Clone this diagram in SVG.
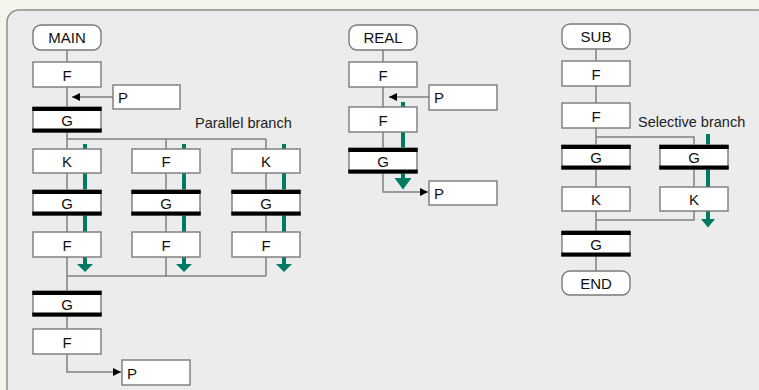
<svg xmlns="http://www.w3.org/2000/svg" width="759" height="390" viewBox="0 0 759 390">
<defs>
<style>
.box{fill:#fff;stroke:#7a7a7a;stroke-width:1.4}
.bar{fill:#000}
.lbl{font-family:"Liberation Sans",Arial,sans-serif;font-size:15px;fill:#111;text-anchor:middle}
.pl{font-family:"Liberation Sans",Arial,sans-serif;font-size:15px;fill:#111}
.note{font-family:"Liberation Sans",Arial,sans-serif;font-size:14.5px;fill:#222}
.ln{fill:none;stroke:#808080;stroke-width:1.5}
.gr{fill:none;stroke:#007a63;stroke-width:4}
.gh{fill:#007a63}
</style>
<marker id="ah" markerUnits="userSpaceOnUse" markerWidth="10" markerHeight="10" viewBox="0 0 10 10" refX="9" refY="5" orient="auto">
<path d="M1,1 L9,5 L1,9 Z" fill="#000"/>
</marker>
</defs>
<rect x="0" y="0" width="759" height="390" fill="#f4f4ec"/>
<rect x="7" y="10" width="762" height="400" rx="12" fill="#ececec" stroke="#8c8c8c" stroke-width="1.5"/>
<text class="note" x="195" y="128">Parallel branch</text>
<text class="note" x="638" y="127">Selective branch</text>
<g id="connectors">
<path class="ln" d="M67,50V62M67,87V107M67,132V149M67,139H266M166,139V149M266,139V149"/>
<path class="ln" d="M67,173V190M166,173V190M266,173V190M67,215V232M166,215V232M266,215V232"/>
<path class="ln" d="M67,257V291M67,276H266M166,257V276M266,257V276M67,316V329"/>
<path class="ln" d="M113,97H72" marker-end="url(#ah)"/>
<path class="ln" d="M67,354V372H121" marker-end="url(#ah)"/>
<path class="ln" d="M383,50V62M383,87V107M383,132V148"/>
<path class="ln" d="M429,97H389" marker-end="url(#ah)"/>
<path class="ln" d="M383,173V192H428" marker-end="url(#ah)"/>
<path class="ln" d="M596,48V61M596,86V103M596,128V145M596,169V187M596,211V231M596,256V271M596,137H694V145M694,169V187M694,211V220H596"/>
<path class="gr" d="M85,144V265M184,144V265M284,144V265"/>
<polygon class="gh" points="77,264 93,264 85,272"/>
<polygon class="gh" points="176,264 192,264 184,272"/>
<polygon class="gh" points="276,264 292,264 284,272"/>
<path class="gr" d="M403,102V179"/>
<polygon class="gh" points="394.5,178 411.5,178 403,189.5"/>
<path class="gr" d="M708,134V220"/>
<polygon class="gh" points="701,219 715,219 708,227.5"/>
</g>
<g id="main">
<rect class="box" x="33" y="25" width="68" height="25" rx="8"/><text class="lbl" x="67" y="43">MAIN</text>
</g>
<g id="main-f1"><rect class="box" x="33" y="62" width="68" height="25"/><text class="lbl" x="67" y="80.5">F</text></g>
<g id="main-p1"><rect class="box" x="113" y="85" width="67" height="24"/><text class="pl" x="118" y="103">P</text></g>
<g id="main-g1"><rect class="box" x="33" y="107" width="68" height="25"/><rect class="bar" x="32.3" y="107" width="69.4" height="4"/><rect class="bar" x="32.3" y="128.5" width="69.4" height="4"/><text class="lbl" x="67" y="125.5">G</text></g>
<g id="main-k1"><rect class="box" x="33" y="149" width="68" height="24"/><text class="lbl" x="67" y="166.5">K</text></g>
<g id="main-f2"><rect class="box" x="132" y="149" width="68" height="24"/><text class="lbl" x="166" y="166.5">F</text></g>
<g id="main-k2"><rect class="box" x="232" y="149" width="68" height="24"/><text class="lbl" x="266" y="166.5">K</text></g>
<g id="main-g2"><rect class="box" x="33" y="190" width="68" height="25"/><rect class="bar" x="32.3" y="190" width="69.4" height="4"/><rect class="bar" x="32.3" y="211.5" width="69.4" height="4"/><text class="lbl" x="67" y="208.5">G</text></g>
<g id="main-g3"><rect class="box" x="132" y="190" width="68" height="25"/><rect class="bar" x="131.3" y="190" width="69.4" height="4"/><rect class="bar" x="131.3" y="211.5" width="69.4" height="4"/><text class="lbl" x="166" y="208.5">G</text></g>
<g id="main-g4"><rect class="box" x="232" y="190" width="68" height="25"/><rect class="bar" x="231.3" y="190" width="69.4" height="4"/><rect class="bar" x="231.3" y="211.5" width="69.4" height="4"/><text class="lbl" x="266" y="208.5">G</text></g>
<g id="main-f3"><rect class="box" x="33" y="232" width="68" height="25"/><text class="lbl" x="67" y="250.5">F</text></g>
<g id="main-f4"><rect class="box" x="132" y="232" width="68" height="25"/><text class="lbl" x="166" y="250.5">F</text></g>
<g id="main-f5"><rect class="box" x="232" y="232" width="68" height="25"/><text class="lbl" x="266" y="250.5">F</text></g>
<g id="main-g5"><rect class="box" x="33" y="291" width="68" height="25"/><rect class="bar" x="32.3" y="291" width="69.4" height="4"/><rect class="bar" x="32.3" y="312.5" width="69.4" height="4"/><text class="lbl" x="67" y="309.5">G</text></g>
<g id="main-f6"><rect class="box" x="33" y="329" width="68" height="25"/><text class="lbl" x="67" y="347.5">F</text></g>
<g id="main-p2"><rect class="box" x="122" y="360" width="68" height="25"/><text class="pl" x="127" y="378.5">P</text></g>

<g id="real"><rect class="box" x="349" y="25" width="68" height="25" rx="8"/><text class="lbl" x="383" y="43">REAL</text></g>
<g id="real-f1"><rect class="box" x="349" y="62" width="68" height="25"/><text class="lbl" x="383" y="80.5">F</text></g>
<g id="real-p1"><rect class="box" x="429" y="85" width="68" height="25"/><text class="pl" x="434" y="103">P</text></g>
<g id="real-f2"><rect class="box" x="349" y="107" width="68" height="25"/><text class="lbl" x="383" y="125.5">F</text></g>
<g id="real-g1"><rect class="box" x="349" y="148" width="68" height="25"/><rect class="bar" x="348.3" y="148" width="69.4" height="4"/><rect class="bar" x="348.3" y="169.5" width="69.4" height="4"/><text class="lbl" x="383" y="166.5">G</text></g>
<g id="real-p2"><rect class="box" x="429" y="181" width="68" height="24"/><text class="pl" x="434" y="199">P</text></g>

<g id="sub"><rect class="box" x="562" y="24" width="68" height="25" rx="8"/><text class="lbl" x="596" y="42">SUB</text></g>
<g id="sub-f1"><rect class="box" x="562" y="61" width="68" height="25"/><text class="lbl" x="596" y="79.5">F</text></g>
<g id="sub-f2"><rect class="box" x="562" y="103" width="68" height="25"/><text class="lbl" x="596" y="121.5">F</text></g>
<g id="sub-g1"><rect class="box" x="562" y="145" width="68" height="24"/><rect class="bar" x="561.3" y="145" width="69.4" height="4"/><rect class="bar" x="561.3" y="165.5" width="69.4" height="4"/><text class="lbl" x="596" y="162.5">G</text></g>
<g id="sub-g2"><rect class="box" x="660" y="145" width="68" height="24"/><rect class="bar" x="659.3" y="145" width="69.4" height="4"/><rect class="bar" x="659.3" y="165.5" width="69.4" height="4"/><text class="lbl" x="694" y="162.5">G</text></g>
<g id="sub-k1"><rect class="box" x="562" y="187" width="68" height="24"/><text class="lbl" x="596" y="204.5">K</text></g>
<g id="sub-k2"><rect class="box" x="660" y="187" width="68" height="24"/><text class="lbl" x="694" y="204.5">K</text></g>
<g id="sub-g3"><rect class="box" x="562" y="231" width="68" height="25"/><rect class="bar" x="561.3" y="231" width="69.4" height="4"/><rect class="bar" x="561.3" y="252.5" width="69.4" height="4"/><text class="lbl" x="596" y="249.5">G</text></g>
<g id="sub-end"><rect class="box" x="562" y="271" width="68" height="24" rx="8"/><text class="lbl" x="596" y="288.5">END</text></g>
</svg>
